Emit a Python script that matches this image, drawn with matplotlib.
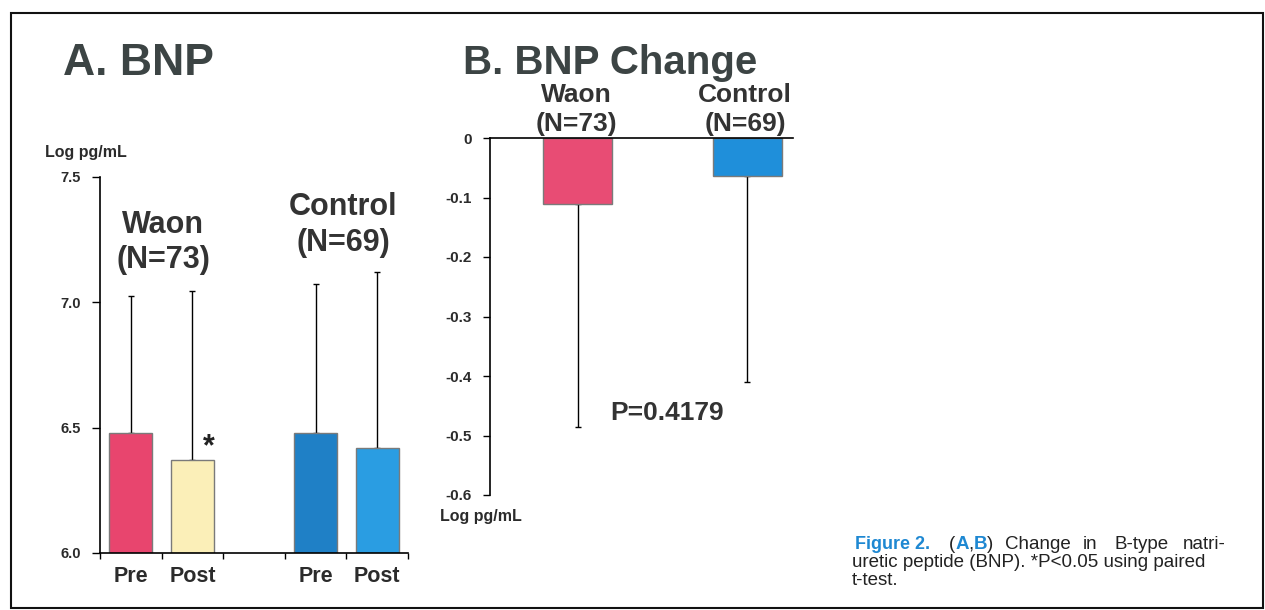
import numpy as np
import matplotlib
matplotlib.use("Agg")
import matplotlib.pyplot as plt
from matplotlib.patches import Rectangle

plt.rcParams['font.family'] = ['Liberation Sans', 'DejaVu Sans']

W, H = 1265, 610

# panel A: BNP, log pg/mL (mean, upward SD)
a_pos = [0.5, 1.5, 3.5, 4.5]
a_labels = ["Pre", "Post", "Pre", "Post"]
a_mean = [6.48, 6.372, 6.48, 6.42]
a_sd = [0.544, 0.672, 0.592, 0.70]
a_colors = ["#e8456e", "#fbefb8", "#1f80c6", "#2a9de2"]

# panel B: BNP change (mean, downward SD)
b_pos = [1, 2]
b_mean = [-0.111, -0.064]
b_sd = [0.375, 0.346]
b_colors = ["#e84c74", "#1f8fda"]

txt = "#2b2b2b"
title_c = "#3c4444"


def fx(x):
    return x / W


def fy(y):
    return 1 - y / H


fig = plt.figure(figsize=(W / 100, H / 100), dpi=100)

# ---- A. BNP
ax1 = fig.add_axes([fx(100), fy(553), 308 / W, 376 / H])
ax1.bar(a_pos, np.array(a_mean) - 6.0, bottom=6.0, width=0.7, color=a_colors,
        edgecolor="#7a7a7a", linewidth=1, zorder=2)
ax1.errorbar(a_pos, a_mean, yerr=[np.zeros(4), a_sd], fmt="none", ecolor="black",
             elinewidth=1, capsize=2.5, capthick=1, zorder=1)
ax1.set_xlim(0, 5)
ax1.set_ylim(6.0, 7.5)
ax1.set_yticks([6.0, 6.5, 7.0, 7.5])
ax1.set_yticklabels(["6.0", "6.5", "7.0", "7.5"], fontsize=10.5, fontweight="bold", color=txt)
ax1.set_xticks(range(6))
ax1.set_xticklabels([])
ax1.set_xticks(a_pos, minor=True)
ax1.set_xticklabels(a_labels, minor=True, fontsize=15.5, fontweight="bold", color=txt)
ax1.tick_params(axis="x", which="major", direction="out", length=4, width=1)
ax1.tick_params(axis="x", which="minor", length=0, pad=9)
ax1.tick_params(axis="y", direction="out", length=6, width=1, pad=8)
for s in ["top", "right"]:
    ax1.spines[s].set_visible(False)
for s in ["left", "bottom"]:
    ax1.spines[s].set_linewidth(1.2)

# ---- B. BNP Change
ax2 = fig.add_axes([fx(490), fy(495), 303 / W, 357 / H])
ax2.bar(b_pos, b_mean, width=0.41, color=b_colors, edgecolor="#7a7a7a",
        linewidth=1, zorder=2)
ax2.errorbar(b_pos, b_mean, yerr=[b_sd, np.zeros(2)], fmt="none", ecolor="black",
             elinewidth=1, capsize=2.5, capthick=1, zorder=1)
ax2.set_xlim(0.485, 2.268)
ax2.set_ylim(-0.6, 0)
yt = [0, -0.1, -0.2, -0.3, -0.4, -0.5, -0.6]
ax2.set_yticks(yt)
ax2.set_yticklabels(["0"] + [f"{v:.1f}" for v in yt[1:]], fontsize=11,
                    fontweight="bold", color=txt)
ax2.set_xticks([])
ax2.tick_params(axis="y", direction="out", length=5, width=1, pad=8)
ax2.spines["right"].set_visible(False)
ax2.spines["bottom"].set_visible(False)
ax2.spines["top"].set_linewidth(1.2)
ax2.spines["top"].set_zorder(3)
ax2.spines["left"].set_linewidth(1.2)

# ---- titles and labels
fig.text(fx(63), fy(75), "A. BNP", fontsize=32, fontweight="bold", color=title_c,
         va="baseline", ha="left")
fig.text(fx(463), fy(74), "B. BNP Change", fontsize=29, fontweight="bold", color=title_c,
         va="baseline", ha="left")

fig.text(fx(86), fy(152), "Log pg/mL", fontsize=11.5, fontweight="bold", color=txt,
         ha="center", va="center")
fig.text(fx(481), fy(517), "Log pg/mL", fontsize=11.5, fontweight="bold", color=txt,
         ha="center", va="center")

fig.text(fx(163), fy(225), "Waon", fontsize=22, fontweight="bold", color="#333",
         ha="center", va="center")
fig.text(fx(163), fy(260), "(N=73)", fontsize=22, fontweight="bold", color="#333",
         ha="center", va="center")
fig.text(fx(343), fy(207), "Control", fontsize=22, fontweight="bold", color="#333",
         ha="center", va="center")
fig.text(fx(343), fy(243), "(N=69)", fontsize=22, fontweight="bold", color="#333",
         ha="center", va="center")
fig.text(fx(209), fy(447), "*", fontsize=22, fontweight="bold", color="#222",
         ha="center", va="center")

fig.text(fx(576), fy(95), "Waon", fontsize=19, fontweight="bold", color="#333",
         ha="center", va="center")
fig.text(fx(576), fy(124), "(N=73)", fontsize=19, fontweight="bold", color="#333",
         ha="center", va="center")
fig.text(fx(745), fy(95), "Control", fontsize=19, fontweight="bold", color="#333",
         ha="center", va="center")
fig.text(fx(745), fy(124), "(N=69)", fontsize=19, fontweight="bold", color="#333",
         ha="center", va="center")
fig.text(fx(667), fy(413), "P=0.4179", fontsize=19, fontweight="bold", color="#333",
         ha="center", va="center")

# ---- caption
blue = "#1e88d2"
cap_fs = 13.5
renderer = fig.canvas.get_renderer()


def pieces(x, y, parts):
    for s, col, wt in parts:
        t = fig.text(fx(x), fy(y), s, fontsize=cap_fs, color=col, fontweight=wt,
                     ha="left", va="baseline")
        x += t.get_window_extent(renderer).width


fig.text(fx(855), fy(549), "Figure 2.", fontsize=13, color=blue, fontweight="bold",
         ha="left", va="baseline", fontstretch="condensed")
pieces(949, 549, [("(", "#222", "normal"), ("A", blue, "bold"), (",", "#222", "normal"),
                  ("B", blue, "bold"), (")", "#222", "normal")])
# justified first line: words placed at their spots
for wx, word in [(1005, "Change"), (1083, "in"), (1115, "B-type")]:
    fig.text(fx(wx), fy(549), word, fontsize=cap_fs, color="#222", ha="left",
             va="baseline")
fig.text(fx(1226), fy(549), "natri-", fontsize=cap_fs, color="#222", ha="right",
         va="baseline")
fig.text(fx(852), fy(567), "uretic peptide (BNP). *P<0.05 using paired", fontsize=cap_fs,
         color="#222", ha="left", va="baseline")
fig.text(fx(852), fy(585), "t-test.", fontsize=cap_fs, color="#222", ha="left",
         va="baseline")

# outer frame
fig.patches.append(Rectangle((fx(11), fy(608)), (1263 - 11) / W, (608 - 13) / H,
                             transform=fig.transFigure, fill=False, edgecolor="#111",
                             linewidth=1.5))

fig.savefig("out.png", dpi=100)
